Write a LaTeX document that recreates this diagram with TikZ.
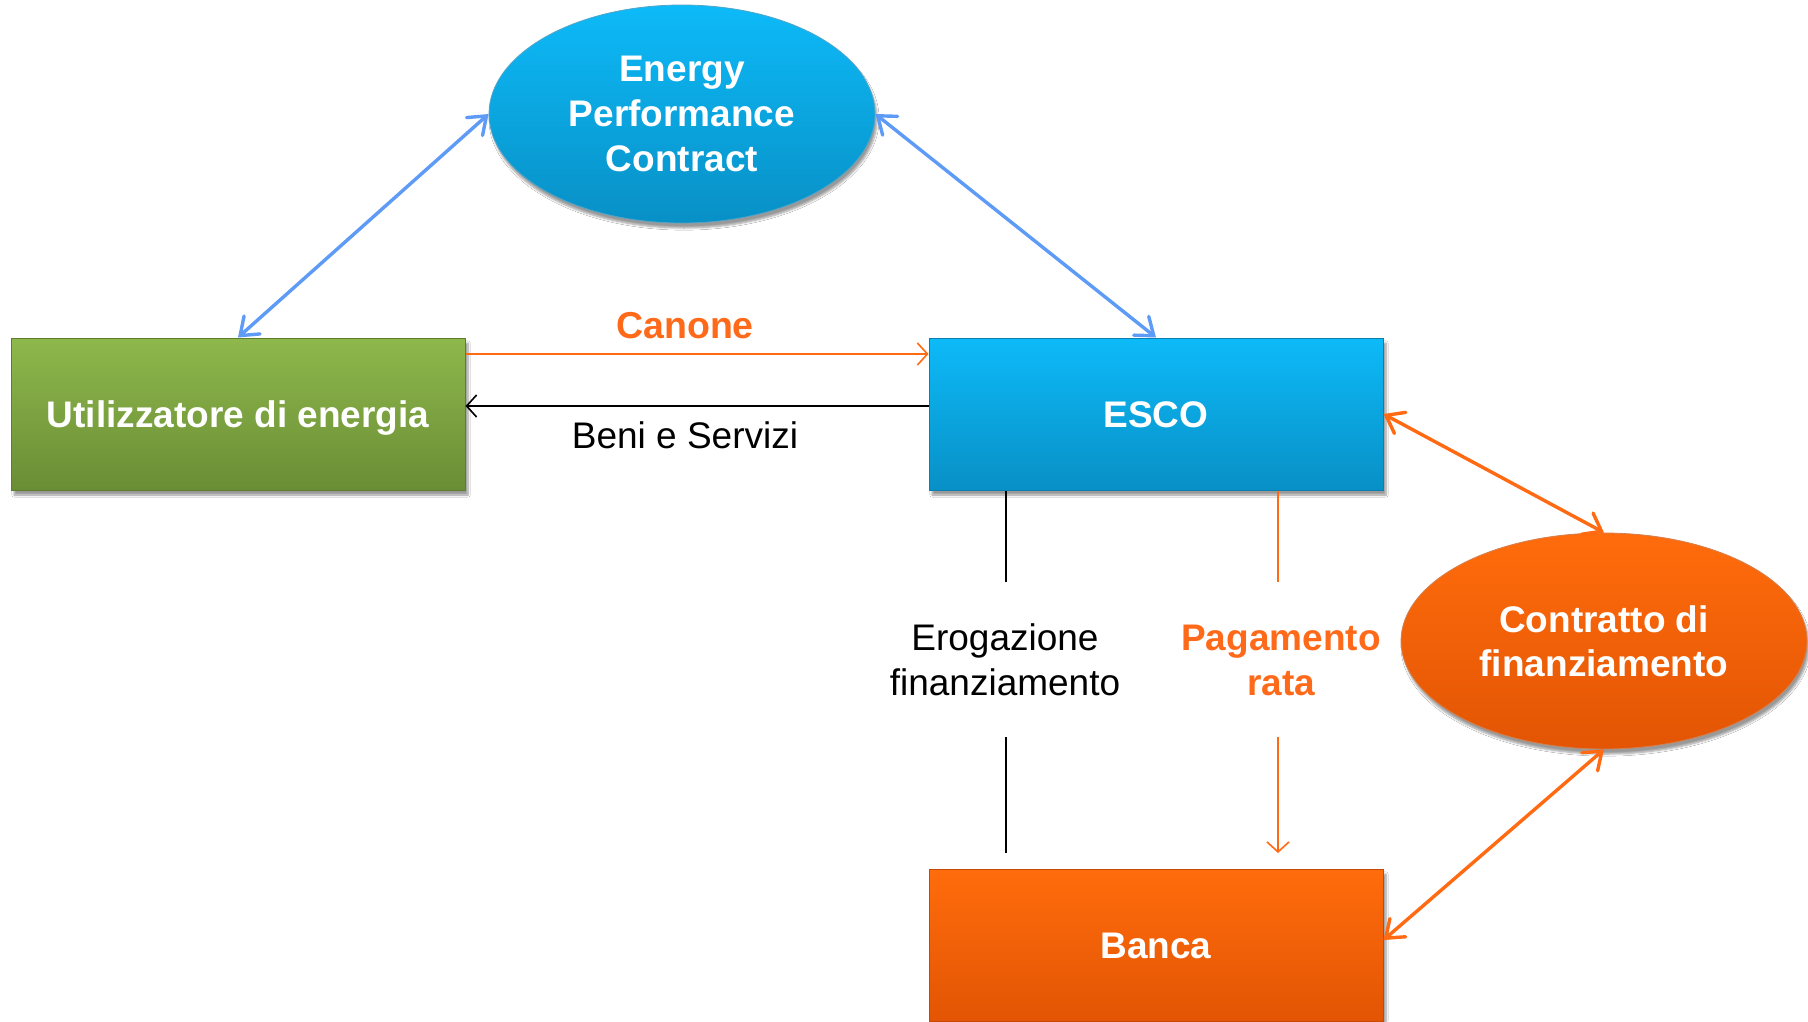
\documentclass[tikz,border=0pt]{standalone}
\usepackage{fontspec}
\setmainfont{Liberation Sans}
\usetikzlibrary{shapes.geometric,arrows.meta,shadows.blur,calc}
\definecolor{grtop}{HTML}{8EB84C}
\definecolor{grbot}{HTML}{6A8D35}
\definecolor{grline}{HTML}{5E7D2E}
\definecolor{bltop}{HTML}{0DBAF8}
\definecolor{blbot}{HTML}{0890C6}
\definecolor{blline}{HTML}{0A7FB0}
\definecolor{ortop}{HTML}{FF6C0C}
\definecolor{orbot}{HTML}{E35504}
\definecolor{orline}{HTML}{C24A06}
\definecolor{arblue}{HTML}{5E9BF7}
\definecolor{arorange}{HTML}{FF6A12}
\definecolor{txorange}{HTML}{FF6A1A}
\tikzset{
  bighead/.tip={Straight Barb[length=16pt,width=24pt,line cap=round]},
  boxbase/.style={rectangle, minimum width=454pt, minimum height=152pt, inner sep=0pt,
    font=\fontsize{37}{44}\selectfont\bfseries, text=white, line width=1pt,
    text height=27pt, text depth=0pt,
    blur shadow={shadow xshift=3pt, shadow yshift=-5pt, shadow blur steps=6, shadow opacity=40}},
  greenbox/.style={boxbase, top color=grtop, bottom color=grbot, draw=grline},
  bluebox/.style={boxbase, top color=bltop, bottom color=blbot, draw=blline},
  orangebox/.style={boxbase, top color=ortop, bottom color=orbot, draw=orline},
  ellbase/.style={ellipse, inner sep=0pt, align=center, text=white,
    blur shadow={shadow xshift=2pt, shadow yshift=-5pt, shadow blur steps=6, shadow opacity=40}},
  blueell/.style={ellbase, top color=bltop, bottom color=blbot, draw=blline!70, line width=0.8pt,
    minimum width=386pt, minimum height=218pt, font=\fontsize{37}{45}\selectfont\bfseries},
  orangeell/.style={ellbase, top color=ortop, bottom color=orbot, draw=orline!70, line width=0.8pt,
    minimum width=406pt, minimum height=216pt, font=\fontsize{37}{44}\selectfont\bfseries},
  bluedbl/.style={draw=arblue, line width=3.4pt, line cap=round, {bighead}-{bighead}},
  orangedbl/.style={draw=arorange, line width=3.4pt, line cap=round, {bighead}-{bighead}},
  thinorange/.style={draw=arorange, line width=1.6pt},
  thinblack/.style={draw=black, line width=1.6pt},
  thinhead/.style={-{Straight Barb[length=10pt,width=22pt]}},
  lbltext/.style={font=\fontsize{37}{45}\selectfont, align=center, inner sep=0pt},
}
\begin{document}
\begin{tikzpicture}[x=1pt,y=-1pt]
\useasboundingbox (0,0) rectangle (1808,1021);
\fill[white] (0,0) rectangle (1808,1021);

\node[greenbox] (utl) at (238,414) {Utilizzatore di energia};
\node[bluebox] (esco) at (1156,414) {ESCO};
\node[orangebox] (banca) at (1156,945) {Banca};
\node[blueell] (epc) at (682,114) {Energy\\Performance\\Contract};
\node[orangeell] (cf) at (1604,641) {Contratto di\\finanziamento};

% blue double arrows
\draw[bluedbl] (utl.north) -- (epc.west);
\draw[bluedbl] (epc.east) -- (esco.north);
% orange double arrows
\draw[orangedbl] (esco.east) -- (cf.north);
\draw[orangedbl] (cf.south) -- ([yshift=5pt]banca.east);

% Canone and Beni e Servizi
\draw[thinorange, thinhead] ([yshift=60pt]utl.east) -- ([yshift=60pt]esco.west);
\draw[thinblack, thinhead] ([yshift=8pt]esco.west) -- ([yshift=8pt]utl.east);
\node[lbltext, font=\fontsize{37.5}{45}\selectfont\bfseries, text=txorange] (canone) at (685,326) {Canone};
\node[lbltext] (beni) at (685,435) {Beni e Servizi};

% vertical connectors
\coordinate (e1) at (1006,582);
\coordinate (e2) at (1006,737);
\coordinate (e3) at (1006,853);
\coordinate (p1) at (1278,582);
\coordinate (p2) at (1278,737);
\coordinate (p3) at (1278,853);
\draw[thinblack] (esco.south -| e1) -- (e1);
\draw[thinblack] (e2) -- (e3);
\draw[thinorange] (esco.south -| p1) -- (p1);
\draw[thinorange, thinhead] (p2) -- (p3);
\node[lbltext] (erog) at (1005,660) {Erogazione\\finanziamento};
\node[lbltext, font=\fontsize{37}{45}\selectfont\bfseries, text=txorange] (pag) at (1281,660) {Pagamento\\rata};
\end{tikzpicture}
\end{document}
